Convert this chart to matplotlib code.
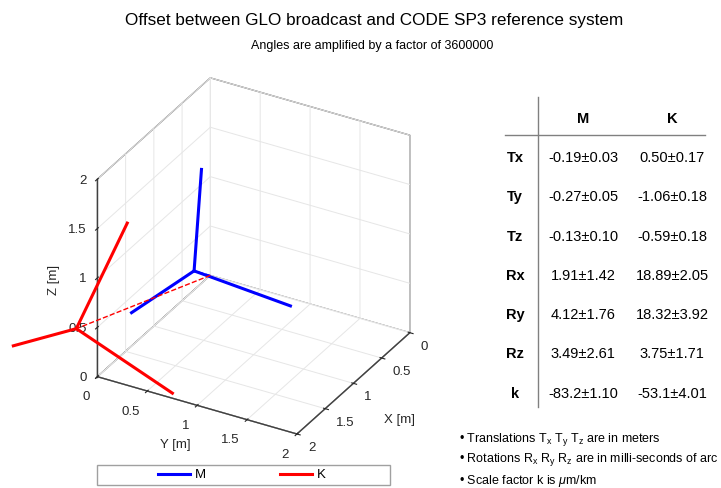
import numpy as np
import matplotlib
matplotlib.use("Agg")
import matplotlib.pyplot as plt
from matplotlib.patches import Rectangle

plt.rcParams['font.family'] = ['Liberation Sans', 'DejaVu Sans']
plt.rcParams['mathtext.fontset'] = 'custom'
plt.rcParams['mathtext.rm'] = 'Liberation Sans'
plt.rcParams['mathtext.it'] = 'Liberation Sans:italic'
plt.rcParams['mathtext.bf'] = 'Liberation Sans:bold'

# Helmert parameters (translations in m, rotations in mas, scale in um/km)
params = ['Tx', 'Ty', 'Tz', 'Rx', 'Ry', 'Rz', 'k']
m_val = [-0.19, -0.27, -0.13, 1.91, 4.12, 3.49, -83.2]
m_err = [0.03, 0.05, 0.10, 1.42, 1.76, 2.61, 1.10]
k_val = [0.50, -1.06, -0.59, 18.89, 18.32, 3.75, -53.1]
k_err = [0.17, 0.18, 0.18, 2.05, 3.92, 1.71, 4.01]
solutions = ['M', 'K']
colors = ['blue', 'red']
ticks = [0, 0.5, 1, 1.5, 2]
tick_labels = ['0', '0.5', '1', '1.5', '2']

fig = plt.figure(figsize=(7.21, 4.88), dpi=100)
fig.text(374 / 721, 1 - 20 / 488, 'Offset between GLO broadcast and CODE SP3 reference system',
         ha='center', va='center', fontsize=12.35)
fig.text(372 / 721, 1 - 46 / 488, 'Angles are amplified by a factor of 3600000',
         ha='center', va='center', fontsize=9)

ax = fig.add_axes([0.0533, 0.0699, 0.5825, 0.79], projection='3d')
ax.set_proj_type('ortho')
ax.view_init(elev=30.5, azim=29.5)
ax.set_box_aspect((1, 1, 1))

handles = []
for vals, col, name in zip([m_val, k_val], colors, solutions):
    t = np.array(vals[:3])
    # amplified angles: mas * 3600000 -> degrees
    rx, ry, rz = np.deg2rad(vals[3:6])
    R = np.array([[1, rz, -ry], [-rz, 1, rx], [ry, -rx, 1]])
    ax.plot([0, t[0]], [0, t[1]], [0, t[2]], '--', color=col, lw=1, clip_on=False)
    for i in range(3):
        e = t + R[:, i]
        h, = ax.plot([t[0], e[0]], [t[1], e[1]], [t[2], e[2]], color=col, lw=2.2,
                     clip_on=False)
    handles.append(h)

ax.set_xlim(0, 2)
ax.set_ylim(0, 2)
ax.set_zlim(0, 2)
for axis in (ax.xaxis, ax.yaxis, ax.zaxis):
    axis.set_ticks(ticks)
    axis.set_ticklabels(tick_labels)
    axis.set_pane_color('white')
    axis.pane.set_edgecolor('#5a5a5a')
    axis.pane.set_linewidth(0.9)
    axis.line.set_color('#404040')
    axis.line.set_linewidth(1.0)
    axis._axinfo['grid']['color'] = '#e6e6e6'
    axis._axinfo['grid']['linewidth'] = 0.7
ax.tick_params(labelsize=9.5, colors='#262626', pad=0)
ax.yaxis.set_tick_params(pad=2)
ax.zaxis.set_tick_params(pad=-3)
# MATLAB-like alignment of the tick labels
for axis, ha, va in ((ax.xaxis, 'left', 'center'), (ax.yaxis, 'right', 'center'),
                     (ax.zaxis, 'right', 'center')):
    for lab in axis.get_ticklabels():
        lab.set_ha(ha)
        lab.set_va(va)

# table, notes, axis labels and legend frame in pixel coordinates
tab = fig.add_axes([0, 0, 1, 1])
tab.set_xlim(0, 721)
tab.set_ylim(488, 0)
tab.axis('off')
tab.text(400, 420, 'X [m]', ha='center', va='center', fontsize=9.5, color='#262626')
tab.text(175, 445, 'Y [m]', ha='center', va='center', fontsize=9.5, color='#262626')
tab.text(54, 280, 'Z [m]', ha='center', va='center', fontsize=9.5, color='#262626',
         rotation=90)

tab.plot([538, 538], [97, 407], color='#808080', lw=1)
tab.plot([505, 705], [135, 135], color='#808080', lw=1)
col_x = [583, 672]
for cx, name in zip(col_x, solutions):
    tab.text(cx, 119, name, ha='center', va='center', fontsize=10.5, fontweight='bold')
row_y = 158
for i, p in enumerate(params):
    y = row_y + i * 39.3
    fmt = '{:.1f}' if p == 'k' else '{:.2f}'
    tab.text(515, y, p, ha='center', va='center', fontsize=10.5, fontweight='bold')
    for cx, vals, errs in zip(col_x, [m_val, k_val], [m_err, k_err]):
        tab.text(cx, y, fmt.format(vals[i]) + '\u00b1' + '{:.2f}'.format(errs[i]),
                 ha='center', va='center', fontsize=10.5)

notes = [r'Translations T$_\mathrm{x}$ T$_\mathrm{y}$ T$_\mathrm{z}$ are in meters',
         r'Rotations R$_\mathrm{x}$ R$_\mathrm{y}$ R$_\mathrm{z}$ are in milli-seconds of arc',
         r'Scale factor k is $\mu$m/km']
for i, s in enumerate(notes):
    tab.text(459, 439 + i * 20.8, '\u2022 ' + s, ha='left', va='center', fontsize=9)

tab.add_patch(Rectangle((97, 465), 293, 20, fill=False, edgecolor='#a0a0a0', lw=1))
tab.legend(handles, solutions, ncol=2, fontsize=9.5, frameon=False,
           loc='center', bbox_to_anchor=(242 / 721, 1 - 475 / 488),
           bbox_transform=fig.transFigure, handlelength=2.4, handletextpad=0.4,
           columnspacing=5.6, borderaxespad=0, borderpad=0)

fig.savefig('out.png', dpi=100)
